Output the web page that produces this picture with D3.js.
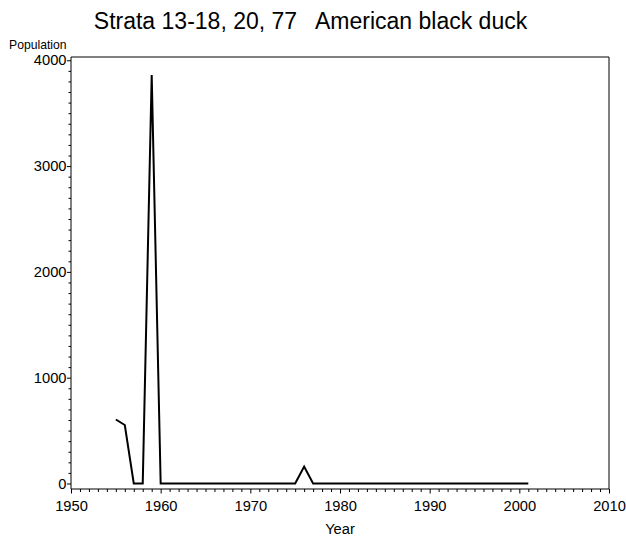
<!DOCTYPE html>
<html>
<head>
<meta charset="utf-8">
<script src="https://cdn.jsdelivr.net/npm/d3@7"></script>
<style>
  body { margin: 0; background: #fff; }
  svg { display: block; font-family: "Liberation Sans", Arial, Helvetica, sans-serif; }
</style>
</head>
<body>
<svg id="chart" width="626" height="539"></svg>
<script>
const titleText = "Strata 13-18, 20, 77   American black duck";
const yLabel = "Population";
const xLabel = "Year";
const years = [1955,1956,1957,1958,1959,1960,1961,1962,1963,1964,1965,1966,1967,1968,1969,1970,1971,1972,1973,1974,1975,1976,1977,1978,1979,1980,1981,1982,1983,1984,1985,1986,1987,1988,1989,1990,1991,1992,1993,1994,1995,1996,1997,1998,1999,2000,2001];
const population = [605,553,0,0,3860,0,0,0,0,0,0,0,0,0,0,0,0,0,0,0,0,160,0,0,0,0,0,0,0,0,0,0,0,0,0,0,0,0,0,0,0,0,0,0,0,0,0];
const xTicks = [1950,1960,1970,1980,1990,2000,2010];
const yTicks = [0,1000,2000,3000,4000];

const svg = d3.select("#chart");
const mL = 71, mR = 609, mT = 57, mB = 489;
const FONT = "Liberation Sans, Arial, sans-serif";

const x = d3.scaleLinear().domain([1950, 2010]).range([mL, mR]);
const y = d3.scaleLinear().domain([-52, 4031]).range([mB, mT]);

// frame (top & right)
svg.append("path")
  .attr("d", `M${mL},${mT}H${mR}V${mB}`)
  .attr("fill", "none").attr("stroke", "#000").attr("stroke-width", 1);

// x axis
const xMinor = d3.range(1950, 2011, 1).filter(v => v % 10 !== 0);
svg.append("g").attr("transform", `translate(0,${mB})`)
  .call(d3.axisBottom(x).tickValues(xMinor).tickSize(3).tickFormat(""))
  .call(g => g.select(".domain").remove());
svg.append("g").attr("transform", `translate(0,${mB})`)
  .call(d3.axisBottom(x).tickValues(xTicks).tickSize(4.5).tickPadding(7.5).tickFormat(d3.format("d")).tickSizeOuter(0))
  .call(g => g.select(".domain").attr("d", `M${mL},0H${mR}`))
  .call(g => g.selectAll("text").attr("font-size", 14.7).attr("fill", "#000").attr("font-family", FONT));

// y axis
const yMinor = d3.range(0, 4001, 100).filter(v => v % 1000 !== 0);
svg.append("g").attr("transform", `translate(${mL},0)`)
  .call(d3.axisLeft(y).tickValues(yMinor).tickSize(2.5).tickFormat(""))
  .call(g => g.select(".domain").remove());
svg.append("g").attr("transform", `translate(${mL},0)`)
  .call(d3.axisLeft(y).tickValues(yTicks).tickSize(4).tickPadding(0.5).tickFormat(d3.format("d")).tickSizeOuter(0))
  .call(g => g.select(".domain").attr("d", `M0,${mB}V${mT}`))
  .call(g => g.selectAll("text").attr("font-size", 14.7).attr("fill", "#000").attr("font-family", FONT));

// line
const line = d3.line().x((d, i) => x(years[i])).y(d => y(d));
svg.append("path").datum(population)
  .attr("d", line)
  .attr("fill", "none").attr("stroke", "#000").attr("stroke-width", 2).attr("stroke-linejoin", "miter");

// labels
svg.append("text").attr("x", 310.5).attr("y", 29).attr("text-anchor", "middle")
  .attr("font-size", 23).style("white-space", "pre").attr("xml:space", "preserve").text(titleText);
svg.append("text").attr("x", 9).attr("y", 48.5).attr("font-size", 12.2).text(yLabel);
svg.append("text").attr("x", (mL + mR) / 2).attr("y", 534).attr("text-anchor", "middle")
  .attr("font-size", 14.7).text(xLabel);
</script>
</body>
</html>
